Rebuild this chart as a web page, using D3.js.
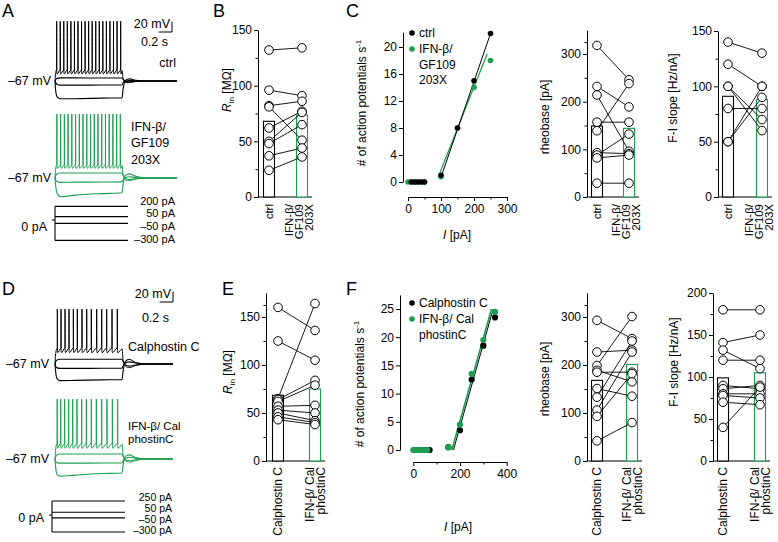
<!DOCTYPE html>
<html><head><meta charset="utf-8">
<script src="https://cdn.jsdelivr.net/npm/d3@7"></script>
<style>
body{margin:0;background:#fff}
text{font-family:Arial,"Liberation Sans",Helvetica,sans-serif;fill:#000}
</style>
</head><body>
<svg id="c" width="778" height="542"></svg>
<script>
// ================= DATA =================
// --- voltage traces (A, D) : breakpoint times (ms) and voltages (mV) ---
const sweepT = [0, 10, 30, 80, 300, 700, 1000, 1015, 1050, 1110, 1200, 1400];
const postT  = [1000, 1015, 1050, 1110, 1200, 1400];
const traceEndA = 1820, traceEndD = 1760;

const aCtrlHyper = [-67,-85,-97,-101,-101,-100,-99.5,-84,-66,-63,-65.5,-67];
const aCtrlNeg   = [-67,-70,-73.5,-75,-75,-74.8,-74.5,-71,-67.5,-66,-66.5,-67];
const aCtrlPos   = [-67,-64.5,-62,-61,-61,-61.2,-61.2,-63.5,-67,-68.5,-68,-67];
const aCtrlSpikes = [25,78,131,184,237,290,343,396,449,502,555,608,661,714,767,820,873,926,980];
const aCtrlLevels = [48,-46,-53.5];           // peak, threshold, AHP trough
const aCtrlPost   = [-47,-62,-70,-70,-68,-67];

const aIfnHyper = [-67,-82,-96,-103,-100,-97,-95.5,-80,-62,-59,-63.5,-67];
const aIfnNeg   = [-67,-70.5,-74,-75.5,-75,-74.8,-74.5,-71,-66,-64.5,-66,-67];
const aIfnPos   = [-67,-63,-59,-57.5,-57.5,-57.5,-57.5,-61,-68,-70,-68.5,-67];
const aIfnSpikes = [28,84,140,195,251,307,363,418,474,530,586,641,697,753,809,864,920,975];
const aIfnLevels = [56,-42,-48.5];
const aIfnPost   = [-43,-60,-71,-72,-69,-67];

const dCalHyper = [-67,-82,-95,-99,-98.5,-97.5,-97,-82,-62,-58,-64,-67];
const dCalNeg   = [-67,-71,-74.5,-75.5,-75.5,-75.3,-75,-71,-65,-63,-65,-67];
const dCalPos   = [-67,-63,-59.5,-58,-58,-58,-58,-62,-68.5,-71,-69,-67];
const dCalSpikes = [35,90,150,209,274,333,403,473,542,622,697,771,851,930];
const dCalLevels = [38.8,-36.5,-45.3];
const dCalPost   = [-38,-58,-71,-74,-70,-67];

const dIfnHyper = [-67,-83,-97,-100,-98,-95,-94,-80,-62,-59,-64,-67];
const dIfnNeg   = [-67,-71,-74.5,-75,-75,-74.8,-74.7,-71,-65.5,-63.5,-65.5,-67];
const dIfnPos   = [-67,-63,-59,-57.5,-57.5,-57.5,-57.5,-61.5,-68.5,-70.5,-68.5,-67];
const dIfnSpikes = [33,85,144,204,264,328,398,468,542,617,697,776,856,935];
const dIfnLevels = [48.4,-37,-46.4];
const dIfnPost   = [-39,-58,-71,-73,-70,-67];

// current steps (pA)
const aCurrents = [200, 50, -50, -300];
const dCurrents = [250, 50, -50, -300];

// --- B: input resistance (MΩ) ---
const bCtrl = [132, 96, 82, 81, 62, 50, 48, 37, 24];
const bIfn  = [134, 91, 86, 51, 77, 76, 65, 44, 36];
const bMeans = [68, 73.5];
const bTicks = [0, 50, 100, 150];

// --- C: F-I curves ---
const cIfnI  = [0, 10, 20, 30, 40, 50, 100, 150, 200, 250];
const cIfnAP = [0, 0, 0, 0, 0, 0, 0.8, 8, 14, 18];
const cCtrlI  = [10, 20, 30, 40, 50, 100, 150, 200, 250];
const cCtrlAP = [0, 0, 0, 0, 0, 1, 8, 15, 22];
const cCtrlFit = [[102, 1], [250, 22]];
const cIfnFit  = [[97, 1.4], [240, 19]];
const cYTicks = [0, 4, 8, 12, 16, 20];
const cXTicks = [0, 100, 200, 300];

// --- top rheobase (pA) and F-I slope (Hz/nA) ---
const rtCtrl = [318, 232, 214, 157, 139, 93, 88, 82, 29];
const rtIfn  = [246, 189, 96, 157, 238, 91, 132, 88, 29];
const rtMeans = [149, 144];
const rTicks = [0, 100, 200, 300];

const ftCtrl = [140, 120, 100, 100, 80, 50, 50];
const ftIfn  = [130, 100, 70, 60, 80, 100, 90];
const ftMeans = [91, 88];
const ftTicks = [0, 50, 100, 150];

// --- E: input resistance, Calphostin C ---
const eCtrl = [160, 125, 65, 64, 62, 57, 53, 50, 46, 43];
const eIfn  = [136, 105, 164, 84, 79, 58, 50, 42, 40, 38];
const eMeans = [68.5, 75];
const eTicks = [0, 50, 100, 150];

// --- F: F-I curves, Calphostin C ---
const fCalI  = [10, 20, 30, 40, 50, 60, 70, 150, 200, 250, 300, 350];
const fCalAP = [0, 0, 0, 0, 0, 0, 0, 0.5, 3.5, 12.5, 18.5, 23.5];
const fIfnI  = [0, 10, 20, 30, 40, 50, 60, 150, 200, 250, 300, 350];
const fIfnAP = [0, 0, 0, 0, 0, 0, 0, 0.5, 4.5, 13.5, 19.5, 24.5];
const fCalFit = [[172, 0], [342, 25]];
const fIfnFit = [[165, 0], [335, 25]];
const fYTicks = [0, 5, 10, 15, 20, 25];
const fXTicks = [0, 200, 400];

// --- bottom rheobase and F-I slope ---
const rbCtrl = [293, 227, 199, 189, 185, 151, 133, 106, 93, 42];
const rbIfn  = [255, 231, 301, 165, 185, 135, 250, 227, 182, 80];
const rbMeans = [168, 201];

const fbCtrl = [180, 141, 132, 120, 90, 86, 80, 78, 70, 40];
const fbIfn  = [180, 150, 110, 120, 86, 90, 80, 75, 67, 88];
const fbMeans = [99, 105];
const fbTicks = [0, 50, 100, 150, 200];

// ================= DRAWING =================
const GREEN = '#1c9e50';
const svg = d3.select('#c');
const FS = 12;

function txt(x, y, s, o = {}) {
  const t = svg.append('text').attr('x', x).attr('y', y).attr('dy', '0.35em')
    .attr('font-size', o.size || FS).attr('text-anchor', o.anchor || 'start').text(s);
  if (o.rot) t.attr('transform', `rotate(-90,${x},${y})`);
  return t;
}

// panel letters
[['A',2,17],['B',213,17],['C',346,17],['D',2,295],['E',222,295],['F',346,295]].forEach(([l,x,y]) =>
  svg.append('text').attr('x', x).attr('y', y).attr('font-size', 18).text(l));

// ---------- traces ----------
const xT = d3.scaleLinear().domain([0, 1000]).range([55, 122]);
const mvPx = 0.52;
const lineGen = (yV) => d3.line().x(d => xT(d[0])).y(d => yV(d[1])).curve(d3.curveMonotoneX);

function spikeSweep(spikes, lv, post, endT) {
  const [peak, thr, trough] = lv;
  const pts = [[0, -67], [8, (thr - 67) / 2 + 2], [spikes[0] - 3, thr]];
  spikes.forEach((s, i) => {
    pts.push([s - 0.6, thr], [s, peak], [s + 1.6, trough + 4], [s + 7, trough]);
    const nx = spikes[i + 1];
    if (nx) pts.push([nx - 4, thr]);
  });
  postT.forEach((t, i) => pts.push([t + (i === 0 ? 2 : 0), post[i]]));
  pts.push([endT, -67]);
  return pts;
}

function drawTraces(baseY, color, subs, spikes, lv, post, endT) {
  const yV = d3.scaleLinear().domain([-67, 33]).range([baseY, baseY - 100 * mvPx]);
  const g = lineGen(yV);
  subs.forEach(arr => {
    const pts = sweepT.map((t, i) => [t, arr[i]]);
    pts.push([endT, -67]);
    svg.append('path').attr('d', g(pts)).attr('fill', 'none').attr('stroke', color).attr('stroke-width', 1.1);
  });
  svg.append('path').attr('d', g(spikeSweep(spikes, lv, post, endT)))
    .attr('fill', 'none').attr('stroke', color).attr('stroke-width', 1);
  return yV;
}

drawTraces(81, '#000', [aCtrlHyper, aCtrlNeg, aCtrlPos], aCtrlSpikes, aCtrlLevels, aCtrlPost, traceEndA);
drawTraces(178, GREEN, [aIfnHyper, aIfnNeg, aIfnPos], aIfnSpikes, aIfnLevels, aIfnPost, traceEndA);
drawTraces(364, '#000', [dCalHyper, dCalNeg, dCalPos], dCalSpikes, dCalLevels, dCalPost, traceEndD);
drawTraces(459, GREEN, [dIfnHyper, dIfnNeg, dIfnPos], dIfnSpikes, dIfnLevels, dIfnPost, traceEndD);

txt(51, 81, '–67 mV', {anchor: 'end', size: 12.5});
txt(51, 178, '–67 mV', {anchor: 'end', size: 12.5});
txt(49, 364, '–67 mV', {anchor: 'end', size: 12.5});
txt(49, 459, '–67 mV', {anchor: 'end', size: 12.5});
txt(176, 63, 'ctrl', {anchor: 'end', size: 12.5});
txt(131, 127, 'IFN-β/', {size: 12.5});
txt(131, 143, 'GF109', {size: 12.5});
txt(131, 160, '203X', {size: 12.5});
txt(128, 347, 'Calphostin C', {size: 12.5});
txt(128, 425.5, 'IFN-β/ Cal', {size: 11.5});
txt(128, 439, 'phostinC', {size: 11.5});

// scale bars
function scaleBar(xr, yb, tx, ty1, ty2) {
  const v = 20 * mvPx, h = xT(200) - xT(0);
  svg.append('path').attr('d', `M${xr - h},${yb}H${xr}V${yb - v}`).attr('fill', 'none').attr('stroke', '#000').attr('stroke-width', 1);
  txt(tx, ty1, '20 mV', {anchor: 'end', size: 12.5});
  txt(tx - 2, ty2, '0.2 s', {anchor: 'end', size: 12.5});
}
scaleBar(172, 32, 170, 24, 42);
scaleBar(173, 302, 171, 294, 318);

// current steps
function drawCurrents(currents, yI, tStart, tEnd, labX, labYs, zeroY, fs) {
  const x0 = xT(tStart), x1 = xT(tEnd);
  svg.append('line').attr('x1', x0).attr('x2', x0).attr('y1', yI(d3.max(currents))).attr('y2', yI(d3.min(currents)))
    .attr('stroke', '#000').attr('stroke-width', 1.1);
  currents.forEach((c, i) => {
    svg.append('line').attr('x1', x0).attr('x2', x1).attr('y1', yI(c)).attr('y2', yI(c)).attr('stroke', '#000').attr('stroke-width', 1.1);
    txt(labX, labYs[i], (c < 0 ? '–' : '') + Math.abs(c) + ' pA', {anchor: 'end', size: fs});
  });
  svg.append('line').attr('x1', x0 - 3).attr('x2', x0).attr('y1', yI(0)).attr('y2', yI(0)).attr('stroke', '#000');
  txt(x0 - 8, zeroY, '0 pA', {anchor: 'end', size: 12.5});
}
drawCurrents(aCurrents, d3.scaleLinear().domain([-300, 200]).range([240.4, 206.4]), 0, 1090, 175, [201, 213, 226, 239], 227, 11);
drawCurrents(dCurrents, d3.scaleLinear().domain([-300, 250]).range([532, 501]), -45, 1045, 172, [497.5, 508.5, 519.5, 530.5], 518, 10.5);

// ---------- axes helpers ----------
function styleAxis(g) {
  g.attr('font-size', null).attr('font-family', null);
  g.selectAll('path.domain').attr('stroke', '#000').attr('stroke-width', 1);
  g.selectAll('line').attr('stroke', '#000');
  g.selectAll('text').attr('font-size', FS).attr('fill', '#000');
}
function yAxisAt(x, scale, ticks, minor) {
  const g = svg.append('g').attr('transform', `translate(${x},0)`)
    .call(d3.axisLeft(scale).tickValues(ticks).tickSize(4).tickSizeOuter(0).tickPadding(2));
  styleAxis(g);
  if (minor) {
    const m = svg.append('g').attr('transform', `translate(${x},0)`)
      .call(d3.axisLeft(scale).tickValues(minor).tickSize(2.5).tickSizeOuter(0).tickFormat(''));
    m.select('path.domain').remove();
    m.selectAll('line').attr('stroke', '#000');
  }
}
function xAxisAt(y, scale, ticks, minor) {
  const g = svg.append('g').attr('transform', `translate(0,${y})`)
    .call(d3.axisBottom(scale).tickValues(ticks).tickSize(4).tickSizeOuter(0).tickPadding(3));
  styleAxis(g);
  if (minor) {
    const m = svg.append('g').attr('transform', `translate(0,${y})`)
      .call(d3.axisBottom(scale).tickValues(minor).tickSize(2.5).tickSizeOuter(0).tickFormat(''));
    m.select('path.domain').remove();
    m.selectAll('line').attr('stroke', '#000');
  }
}
const halves = (ticks) => ticks.slice(0, -1).map((t, i) => (t + ticks[i + 1]) / 2);

// ---------- paired bar panels ----------
function paired(o) {
  const y = d3.scaleLinear().domain([0, o.max]).range([o.y0, o.yTop]);
  const extra = o.max > d3.max(o.ticks) ? [ (d3.max(o.ticks) + o.max) / 2 ] : [];
  yAxisAt(o.ax, y, o.ticks, halves(o.ticks).concat(extra).filter(v => v < o.max));
  svg.append('line').attr('x1', o.ax).attr('x2', o.trtX + 10).attr('y1', y(0)).attr('y2', y(0)).attr('stroke', '#000');
  [o.ctrlX, o.trtX].forEach((cx, i) => {
    svg.append('rect').attr('x', cx - 5.5).attr('width', 11).attr('y', y(o.means[i])).attr('height', y(0) - y(o.means[i]))
      .attr('fill', '#fff').attr('stroke', i ? GREEN : '#000').attr('stroke-width', 1.1);
  });
  o.ctrl.forEach((v, i) => svg.append('line').attr('x1', o.ctrlX).attr('y1', y(v)).attr('x2', o.trtX).attr('y2', y(o.trt[i]))
    .attr('stroke', '#000').attr('stroke-width', 0.9));
  const circ = (cx, v) => svg.append('circle').attr('cx', cx).attr('cy', y(v)).attr('r', 4.3)
    .attr('fill', '#fff').attr('stroke', '#000').attr('stroke-width', 1);
  o.ctrl.forEach(v => circ(o.ctrlX, v));
  o.trt.forEach(v => circ(o.trtX, v));
  // x labels
  txt(o.ctrlX, o.labY, o.ctrlLab, {anchor: 'end', rot: true, size: o.labFs});
  o.trtLabs.forEach((s, i) => txt(o.trtX + o.trtOffs[i], o.labY, s, {anchor: 'end', rot: true, size: o.labFs}));
  return y;
}

const topLabs = ['IFN-β/', 'GF109', '203X'], topOffs = [-13.5, -3.5, 6.5];
const botLabs = ['IFN-β/ Cal', 'phostinC'], botOffs = [-5.5, 5.5];

paired({ax: 258, y0: 197, yTop: 30, max: 150, ticks: bTicks, ctrl: bCtrl, trt: bIfn, means: bMeans,
  ctrlX: 269, trtX: 302, labY: 204, ctrlLab: 'ctrl', trtLabs: topLabs, trtOffs: topOffs, labFs: 11.5});
paired({ax: 587, y0: 197, yTop: 197 - 350 * (143 / 300), max: 350, ticks: rTicks, ctrl: rtCtrl, trt: rtIfn, means: rtMeans,
  ctrlX: 597, trtX: 629, labY: 204, ctrlLab: 'ctrl', trtLabs: topLabs, trtOffs: topOffs, labFs: 11.5});
paired({ax: 718, y0: 197, yTop: 31, max: 150, ticks: ftTicks, ctrl: ftCtrl, trt: ftIfn, means: ftMeans,
  ctrlX: 728, trtX: 762, labY: 204, ctrlLab: 'ctrl', trtLabs: topLabs, trtOffs: topOffs, labFs: 11.5});
paired({ax: 266, y0: 461, yTop: 461 - 175 * 0.96, max: 175, ticks: eTicks, ctrl: eCtrl, trt: eIfn, means: eMeans,
  ctrlX: 278, trtX: 315, labY: 467, ctrlLab: 'Calphostin C', trtLabs: botLabs, trtOffs: botOffs, labFs: 12});
paired({ax: 587, y0: 461, yTop: 461 - 350 * 0.48, max: 350, ticks: rTicks, ctrl: rbCtrl, trt: rbIfn, means: rbMeans,
  ctrlX: 597, trtX: 632, labY: 467, ctrlLab: 'Calphostin C', trtLabs: botLabs, trtOffs: botOffs, labFs: 12});
paired({ax: 713, y0: 461, yTop: 293, max: 200, ticks: fbTicks, ctrl: fbCtrl, trt: fbIfn, means: fbMeans,
  ctrlX: 723, trtX: 760, labY: 467, ctrlLab: 'Calphostin C', trtLabs: botLabs, trtOffs: botOffs, labFs: 12});

// y labels for bar panels
function rinLabel(x, y) {
  const t = svg.append('text').attr('x', x).attr('y', y).attr('dy', '0.35em').attr('font-size', FS)
    .attr('text-anchor', 'middle').attr('transform', `rotate(-90,${x},${y})`);
  t.append('tspan').attr('font-style', 'italic').text('R');
  t.append('tspan').attr('font-size', 8).attr('dy', 3).text('in');
  t.append('tspan').attr('dy', -3).text(' [MΩ]');
}
rinLabel(227, 90);
rinLabel(228, 372);
txt(545, 117, 'rheobase [pA]', {anchor: 'middle', rot: true});
txt(545, 379, 'rheobase [pA]', {anchor: 'middle', rot: true});
txt(673, 98, 'F-I slope [Hz/nA]', {anchor: 'middle', rot: true});
txt(674, 362, 'F-I slope [Hz/nA]', {anchor: 'middle', rot: true});

// ---------- F-I curve panels ----------
function fiPanel(o) {
  const x = d3.scaleLinear().domain([0, o.xMax]).range([o.x0, o.x1]);
  const y = d3.scaleLinear().domain([0, o.yMax]).range([o.y0, o.yTop]);
  yAxisAt(o.ax, y, o.yTicks, null);
  xAxisAt(o.xAxisY, x, o.xTicks, halves(o.xTicks));
  const fl = d3.line().x(d => x(d[0])).y(d => y(d[1]));
  o.series.forEach(s => {
    svg.append('path').attr('d', fl(s.fit)).attr('stroke', s.color).attr('stroke-width', s.lw).attr('fill', 'none');
  });
  o.series.forEach(s => {
    s.I.forEach((iv, k) => svg.append('circle').attr('cx', x(iv)).attr('cy', y(s.AP[k])).attr('r', o.r).attr('fill', s.color));
  });
  // legend
  o.legend.forEach((lg, i) => {
    svg.append('circle').attr('cx', o.legX).attr('cy', lg.y).attr('r', 2.8).attr('fill', lg.color);
    lg.lines.forEach((s, k) => txt(o.legX + 7, lg.y + k * 15.5, s));
  });
  // axis labels
  const t = svg.append('text').attr('x', o.ylx).attr('y', o.yly).attr('dy', '0.35em').attr('font-size', FS)
    .attr('text-anchor', 'middle').attr('transform', `rotate(-90,${o.ylx},${o.yly})`);
  t.append('tspan').text('# of action potentials s');
  t.append('tspan').attr('font-size', 8).attr('dy', -5).text('-1');
  const u = svg.append('text').attr('x', o.xlx).attr('y', o.xly).attr('dy', '0.35em').attr('font-size', FS).attr('text-anchor', 'middle');
  u.append('tspan').attr('font-style', 'italic').text('I');
  u.append('tspan').text(' [pA]');
}

fiPanel({x0: 408, x1: 507, xMax: 300, y0: 182, yTop: 182 - 22.2 * 6.75, yMax: 22.2, ax: 403, xAxisY: 197,
  yTicks: cYTicks, xTicks: cXTicks, r: 2.8,
  series: [
    {I: cIfnI, AP: cIfnAP, fit: cIfnFit, color: GREEN, lw: 1.2},
    {I: cCtrlI, AP: cCtrlAP, fit: cCtrlFit, color: '#000', lw: 1}
  ],
  legX: 412, legend: [{y: 33, color: '#000', lines: ['ctrl']}, {y: 49, color: GREEN, lines: ['IFN-β/', 'GF109', '203X']}],
  ylx: 362, yly: 103, xlx: 457, xly: 235});

fiPanel({x0: 413.3, x1: 506.7, xMax: 400, y0: 450, yTop: 450 - 27.5 * 5.64, yMax: 27.5, ax: 400, xAxisY: 462,
  yTicks: fYTicks, xTicks: fXTicks, r: 3.1,
  series: [
    {I: fCalI, AP: fCalAP, fit: fCalFit, color: '#000', lw: 1},
    {I: fIfnI, AP: fIfnAP, fit: fIfnFit, color: GREEN, lw: 1.6}
  ],
  legX: 412, legend: [{y: 303, color: '#000', lines: ['Calphostin C']}, {y: 319, color: GREEN, lines: ['IFN-β/ Cal', 'phostinC']}],
  ylx: 360, yly: 384, xlx: 458, xly: 527});
</script>
</body></html>
